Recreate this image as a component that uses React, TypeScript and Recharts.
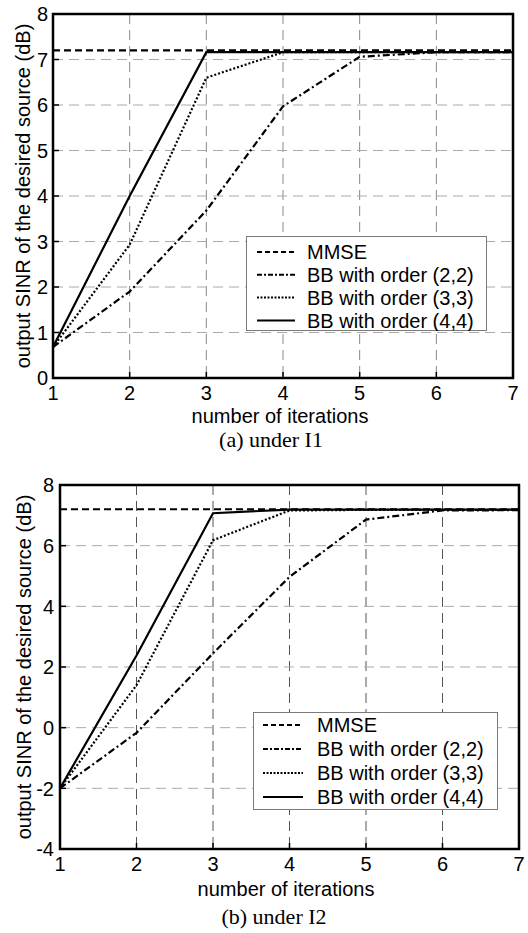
import {
  LineChart,
  Line,
  XAxis,
  YAxis,
  CartesianGrid,
  Legend,
  ReferenceArea,
} from "recharts";

const iterations = [1, 2, 3, 4, 5, 6, 7];
const xTicks = [1, 2, 3, 4, 5, 6, 7];
const seriesNames = [
  "MMSE",
  "BB with order (2,2)",
  "BB with order (3,3)",
  "BB with order (4,4)",
];

// (a) under I1
const mmseA = [7.2, 7.2, 7.2, 7.2, 7.2, 7.2, 7.2];
const bb22A = [0.68, 1.9, 3.68, 5.97, 7.06, 7.16, 7.16];
const bb33A = [0.68, 2.93, 6.6, 7.16, 7.16, 7.16, 7.16];
const bb44A = [0.68, 4.0, 7.16, 7.16, 7.16, 7.16, 7.16];
const yTicksA = [0, 1, 2, 3, 4, 5, 6, 7, 8];

// (b) under I2
const mmseB = [7.2, 7.2, 7.2, 7.2, 7.2, 7.2, 7.2];
const bb22B = [-2, -0.17, 2.45, 4.97, 6.86, 7.16, 7.17];
const bb33B = [-2, 1.4, 6.18, 7.16, 7.18, 7.18, 7.18];
const bb44B = [-2, 2.38, 7.07, 7.19, 7.19, 7.19, 7.19];
const yTicksB = [-4, -2, 0, 2, 4, 6, 8];

const FONT = "'Liberation Sans', Arial, Helvetica, sans-serif";
const SERIF = "'Liberation Serif', 'Times New Roman', serif";

const keys = ["mmse", "bb22", "bb33", "bb44"];
const dashes = ["7 4", "7 3 2 3", "2 2", undefined];
const legendDashes = ["5 3", "5 2 2 2", "2 1.5", undefined];

function rows(mmse: number[], bb22: number[], bb33: number[], bb44: number[]) {
  return iterations.map((it, i) => ({
    it,
    mmse: mmse[i],
    bb22: bb22[i],
    bb33: bb33[i],
    bb44: bb44[i],
  }));
}

const X_GAP = 15;

const BottomTick = (p: any) => (
  <g>
    <line x1={p.x} x2={p.x} y1={p.y - X_GAP} y2={p.y - X_GAP - 6} stroke="#000" strokeWidth={1.5} />
    <text x={p.x} y={p.y} dy="0.36em" textAnchor="middle" fontSize={20} fontFamily={FONT} fill="#000">
      {p.payload.value}
    </text>
  </g>
);

const TopTick = (p: any) => (
  <line x1={p.x} x2={p.x} y1={p.y} y2={p.y + 6} stroke="#000" strokeWidth={1.5} />
);

const RightTick = (p: any) => (
  <line x1={p.x} x2={p.x - 6} y1={p.y} y2={p.y} stroke="#000" strokeWidth={1.5} />
);

function makeLeftTick(gap: number) {
  return (p: any) => (
    <g>
      <line x1={p.x + gap} x2={p.x + gap + 6} y1={p.y} y2={p.y} stroke="#000" strokeWidth={1.5} />
      <text x={p.x} y={p.y} dy="0.36em" textAnchor="end" fontSize={20} fontFamily={FONT} fill="#000">
        {p.payload.value}
      </text>
    </g>
  );
}

function LegendBox({ lg }: { lg: any }) {
  return (
    <svg width={lg.w} height={lg.h} style={{ display: "block" }}>
      <rect x={0.5} y={0.5} width={lg.w - 1} height={lg.h - 1} fill="#fff" stroke="#7a7a7a" />
      {seriesNames.map((name, i) => {
        const y = lg.row0 + i * lg.rowGap;
        return (
          <g key={name}>
            <line x1={lg.s1} x2={lg.s2} y1={y} y2={y} stroke="#000" strokeWidth={2} strokeDasharray={legendDashes[i]} />
            <text x={lg.tx} y={y} dy="0.36em" fontSize={20} fontFamily={FONT} fill="#000">
              {name}
            </text>
          </g>
        );
      })}
    </svg>
  );
}

function Panel(props: any) {
  const { data, yTicks, yDomain, g } = props;
  const LeftTick = makeLeftTick(g.yGap);
  return (
    <div style={{ position: "absolute", left: 0, top: g.top, width: 528, height: g.height }}>
      <LineChart
        width={528}
        height={g.height}
        data={data}
        margin={{ top: g.mTop, right: g.mRight, left: 0, bottom: 0 }}
      >
        <CartesianGrid horizontal={false} stroke={g.vGrid} strokeDasharray="10 6" />
        <CartesianGrid vertical={false} stroke="#aaa" strokeDasharray="10 6" />
        <XAxis
          dataKey="it"
          type="number"
          domain={[1, 7]}
          ticks={xTicks}
          interval={0}
          height={g.xAxisH}
          axisLine={false}
          tickLine={false}
          tickSize={0}
          tickMargin={X_GAP}
          tick={BottomTick}
        />
        <XAxis
          xAxisId="top"
          dataKey="it"
          type="number"
          orientation="top"
          domain={[1, 7]}
          ticks={xTicks}
          interval={0}
          height={0}
          axisLine={false}
          tickLine={false}
          tickSize={0}
          tickMargin={0}
          tick={TopTick}
        />
        <YAxis
          type="number"
          domain={yDomain}
          ticks={yTicks}
          interval={0}
          width={g.yAxisW}
          axisLine={false}
          tickLine={false}
          tickSize={0}
          tickMargin={g.yGap}
          tick={LeftTick}
        />
        <YAxis
          yAxisId="right"
          orientation="right"
          type="number"
          domain={yDomain}
          ticks={yTicks}
          interval={0}
          width={0}
          axisLine={false}
          tickLine={false}
          tickSize={0}
          tickMargin={0}
          tick={RightTick}
        />
        {keys.map((k, i) => (
          <Line
            key={k}
            dataKey={k}
            name={seriesNames[i]}
            type="linear"
            stroke="#000"
            strokeWidth={2.2}
            strokeDasharray={dashes[i]}
            dot={false}
            activeDot={false}
            isAnimationActive={false}
          />
        ))}
        <ReferenceArea
          x1={1}
          x2={7}
          y1={yDomain[0]}
          y2={yDomain[1]}
          fill="none"
          stroke="#000"
          strokeWidth={2.5}
          ifOverflow="visible"
        />
        <Legend
          layout="horizontal"
          verticalAlign="middle"
          align="center"
          wrapperStyle={{ left: g.lg.left, top: g.lg.top, width: g.lg.w, height: g.lg.h }}
          content={() => <LegendBox lg={g.lg} />}
        />
      </LineChart>
      <div
        style={{
          position: "absolute",
          left: g.yLabelX,
          top: g.yLabelY,
          transform: "translate(-50%, -50%) rotate(-90deg)",
          whiteSpace: "nowrap",
          fontFamily: FONT,
          fontSize: 20,
          lineHeight: "20px",
        }}
      >
        output SINR of the desired source (dB)
      </div>
      <div
        style={{
          position: "absolute",
          left: g.xLabelX,
          top: g.xLabelY,
          transform: "translate(-50%, -50%)",
          whiteSpace: "nowrap",
          fontFamily: FONT,
          fontSize: 20,
          lineHeight: "20px",
        }}
      >
        number of iterations
      </div>
      <div
        style={{
          position: "absolute",
          left: g.capX,
          top: g.capY,
          transform: "translate(-50%, -50%)",
          whiteSpace: "nowrap",
          fontFamily: SERIF,
          fontSize: 22,
          lineHeight: "22px",
        }}
      >
        {props.caption}
      </div>
    </div>
  );
}

const geomA = {
  top: 0,
  height: 460,
  mTop: 14,
  mRight: 15,
  yAxisW: 53,
  xAxisH: 82,
  yGap: 5,
  vGrid: "#888",
  yLabelX: 23,
  yLabelY: 196,
  xLabelX: 280,
  xLabelY: 416,
  capX: 271,
  capY: 440,
  lg: { left: 246, top: 236, w: 241, h: 95, row0: 16, rowGap: 22.8, s1: 11, s2: 49, tx: 61 },
};

const geomB = {
  top: 460,
  height: 473,
  mTop: 25,
  mRight: 9,
  yAxisW: 60,
  xAxisH: 84,
  yGap: 6,
  vGrid: "#555",
  yLabelX: 24,
  yLabelY: 207,
  xLabelX: 286,
  xLabelY: 429,
  capX: 274,
  capY: 457,
  lg: { left: 253, top: 252, w: 245, h: 98, row0: 13, rowGap: 24, s1: 10, s2: 50, tx: 64 },
};

export default function App() {
  return (
    <div style={{ position: "absolute", left: 0, top: 0, width: 528, height: 933, background: "#fff" }}>
      <Panel
        data={rows(mmseA, bb22A, bb33A, bb44A)}
        yTicks={yTicksA}
        yDomain={[0, 8]}
        g={geomA}
        caption="(a) under I1"
      />
      <Panel
        data={rows(mmseB, bb22B, bb33B, bb44B)}
        yTicks={yTicksB}
        yDomain={[-4, 8]}
        g={geomB}
        caption="(b) under I2"
      />
    </div>
  );
}
